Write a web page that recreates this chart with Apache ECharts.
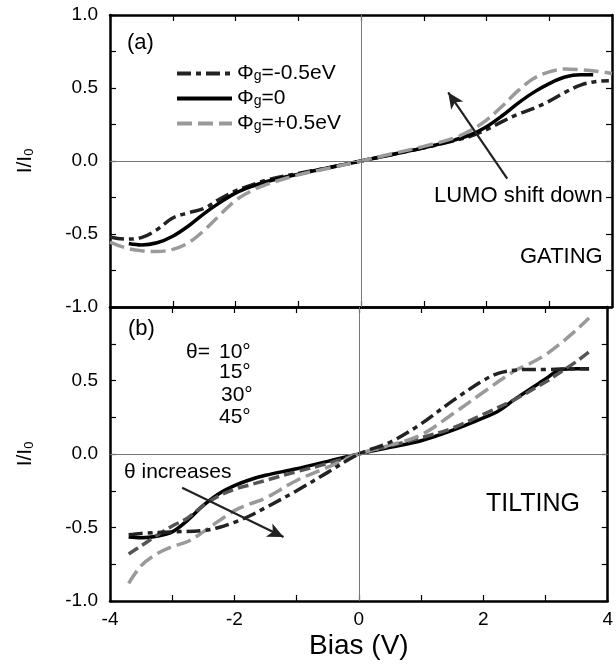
<!DOCTYPE html>
<html>
<head>
<meta charset="utf-8">
<script src="https://cdn.jsdelivr.net/npm/echarts@6/dist/echarts.min.js"></script>
<style>
  html, body { margin: 0; padding: 0; background: #fff; }
  #chart { width: 616px; height: 664px; }
</style>
</head>
<body>
<div id="chart"></div>
<script>
// (a) gating: bias (V) and normalised current I/I0
const gateNames = ["Φg=-0.5eV", "Φg=0", "Φg=+0.5eV"];
const gateBiasNeg = [-4.0, -3.75, -3.5, -3.25, -3.0, -2.75, -2.5, -2.25, -2.0, -1.75, -1.5, -1.0, -0.5, 0, 0.5, 1.0, 1.5, 1.75, 2.0, 2.25, 2.5, 2.75, 3.0, 3.25, 3.5, 3.75, 3.95];
const gateCurNeg = [-0.52, -0.535, -0.525, -0.47, -0.39, -0.355, -0.325, -0.26, -0.205, -0.165, -0.13, -0.085, -0.045, 0, 0.045, 0.09, 0.14, 0.17, 0.215, 0.27, 0.32, 0.36, 0.41, 0.47, 0.52, 0.545, 0.55];
const gateBiasZero = [-3.7, -3.5, -3.25, -3.0, -2.75, -2.5, -2.25, -2.0, -1.75, -1.5, -1.0, -0.5, 0, 0.5, 1.0, 1.5, 1.75, 2.0, 2.25, 2.5, 2.75, 3.0, 3.25, 3.5, 3.7];
const gateCurZero = [-0.565, -0.575, -0.56, -0.515, -0.445, -0.36, -0.285, -0.22, -0.175, -0.14, -0.09, -0.045, 0, 0.045, 0.09, 0.145, 0.18, 0.235, 0.31, 0.395, 0.47, 0.53, 0.575, 0.59, 0.59];
const gateBiasPos = [-4.0, -3.75, -3.5, -3.25, -3.0, -2.75, -2.5, -2.25, -2.0, -1.75, -1.5, -1.0, -0.5, 0, 0.5, 1.0, 1.5, 1.75, 2.0, 2.25, 2.5, 2.75, 3.0, 3.25, 3.5, 3.75, 4.0];
const gateCurPos = [-0.555, -0.595, -0.615, -0.62, -0.605, -0.56, -0.475, -0.37, -0.27, -0.205, -0.16, -0.095, -0.048, 0, 0.05, 0.1, 0.16, 0.21, 0.28, 0.375, 0.48, 0.565, 0.61, 0.63, 0.625, 0.615, 0.60];

// (b) tilting
const tiltNames = ["θ=10°", "θ=15°", "θ=30°", "θ=45°"];
const tiltBias10 = [-3.7, -3.5, -3.25, -3.0, -2.75, -2.5, -2.25, -2.0, -1.75, -1.5, -1.0, -0.5, 0, 0.5, 1.0, 1.5, 2.0, 2.25, 2.5, 2.75, 3.0, 3.25, 3.5, 3.7];
const tiltCur10 = [-0.565, -0.57, -0.56, -0.53, -0.45, -0.35, -0.27, -0.215, -0.175, -0.145, -0.1, -0.05, 0, 0.045, 0.09, 0.16, 0.245, 0.295, 0.37, 0.44, 0.51, 0.575, 0.58, 0.58];
const tiltBias15 = [-3.7, -3.5, -3.25, -3.0, -2.75, -2.5, -2.25, -2.0, -1.75, -1.5, -1.0, -0.5, 0, 0.5, 1.0, 1.5, 2.0, 2.5, 3.0, 3.25, 3.5, 3.7];
const tiltCur15 = [-0.68, -0.625, -0.555, -0.49, -0.435, -0.35, -0.285, -0.24, -0.21, -0.18, -0.12, -0.065, 0, 0.055, 0.11, 0.175, 0.27, 0.37, 0.49, 0.56, 0.63, 0.695];
const tiltBias30 = [-3.7, -3.5, -3.25, -3.0, -2.75, -2.5, -2.25, -2.0, -1.75, -1.5, -1.0, -0.5, 0, 0.5, 1.0, 1.5, 2.0, 2.5, 2.75, 3.0, 3.25, 3.5, 3.7];
const tiltCur30 = [-0.88, -0.76, -0.68, -0.63, -0.595, -0.53, -0.455, -0.385, -0.34, -0.3, -0.18, -0.09, 0, 0.06, 0.13, 0.27, 0.42, 0.565, 0.615, 0.675, 0.755, 0.845, 0.925];
const tiltBias45 = [-3.7, -3.5, -3.0, -2.5, -2.25, -2.0, -1.75, -1.5, -1.0, -0.5, 0, 0.5, 1.0, 1.5, 2.0, 2.25, 2.5, 2.75, 3.0, 3.5, 3.7];
const tiltCur45 = [-0.55, -0.54, -0.53, -0.52, -0.5, -0.465, -0.42, -0.365, -0.25, -0.125, 0, 0.08, 0.205, 0.36, 0.5, 0.55, 0.57, 0.575, 0.575, 0.58, 0.58];

// annotation arrows, [bias, I/I0] tail -> head
const lumoArrow = [[2.33, -0.12], [1.39, 0.47]];
const thetaArrow = [[-2.84, -0.23], [-1.21, -0.565]];

const FONT = "Liberation Sans, Arial, sans-serif";
const zip = (xs, ys) => xs.map((x, i) => [x, ys[i]]);

const dashDot = [14, 5, 5, 5];
const longDash = [15, 6];
const shortDash = [11, 5];

function xAxes(gridIndex, showLabels) {
  const base = {
    type: "value", gridIndex, min: -4, max: 4, interval: 2,
    axisLine: { onZero: false, lineStyle: { color: "#000", width: 2.5 } },
    axisTick: { inside: true, length: 6, lineStyle: { color: "#000", width: 1.2 } },
    minorTick: { show: true, splitNumber: 2, length: 6, lineStyle: { color: "#000", width: 1.2 } },
    splitLine: { show: false }
  };
  return [
    {
      ...base, position: "bottom",
      axisLabel: { show: showLabels, fontFamily: FONT, fontSize: 19, color: "#000", margin: 9 },
      name: showLabels ? "Bias (V)" : "", nameLocation: "middle", nameGap: 31,
      nameTextStyle: { fontFamily: FONT, fontSize: 28, color: "#000" }
    },
    { ...base, position: "top", axisLabel: { show: false } }
  ];
}

function yAxes(gridIndex, showMax) {
  const base = {
    type: "value", gridIndex, min: -1, max: 1, interval: 0.5,
    axisLine: { onZero: false, lineStyle: { color: "#000", width: 2.5 } },
    axisTick: { inside: true, length: 6, lineStyle: { color: "#000", width: 1.2 } },
    minorTick: { show: true, splitNumber: 2, length: 6, lineStyle: { color: "#000", width: 1.2 } },
    splitLine: { show: false }
  };
  return [
    {
      ...base, position: "left",
      axisLabel: {
        fontFamily: FONT, fontSize: 19, color: "#000", margin: 12, showMaxLabel: showMax,
        formatter: (v) => v.toFixed(1)
      },
      name: "{i|I/I}{s|0}", nameLocation: "middle", nameRotate: 90, nameGap: 74,
      nameTextStyle: {
        rich: {
          i: { fontFamily: FONT, fontSize: 21, color: "#000", lineHeight: 22 },
          s: { fontFamily: FONT, fontSize: 13, color: "#000", lineHeight: 8, verticalAlign: "bottom" }
        }
      }
    },
    { ...base, position: "right", axisLabel: { show: false } }
  ];
}

function curve(name, xs, ys, panel, color, dash) {
  return {
    name, type: "line", data: zip(xs, ys),
    xAxisIndex: panel * 2, yAxisIndex: panel * 2,
    smooth: 0.35, symbol: "none", silent: true,
    itemStyle: { color },
    lineStyle: { color, width: 3.5, type: dash, cap: "butt" }
  };
}

function guides(arrow) {
  return {
    silent: true, symbol: "none", animation: false,
    label: { show: false },
    lineStyle: { color: "#777", width: 1, type: "solid" },
    data: [
      { xAxis: 0 },
      { yAxis: 0 },
      [
        { coord: arrow[0], symbol: "none", lineStyle: { color: "#222", width: 2.2, type: "solid" } },
        { coord: arrow[1], symbol: "arrow", symbolSize: [11, 16] }
      ]
    ]
  };
}

const series = [
  curve(gateNames[0], gateBiasNeg, gateCurNeg, 0, "#222", dashDot),
  curve(gateNames[1], gateBiasZero, gateCurZero, 0, "#000", "solid"),
  curve(gateNames[2], gateBiasPos, gateCurPos, 0, "#9a9a9a", longDash),
  curve(tiltNames[0], tiltBias10, tiltCur10, 1, "#000", "solid"),
  curve(tiltNames[1], tiltBias15, tiltCur15, 1, "#555", shortDash),
  curve(tiltNames[2], tiltBias30, tiltCur30, 1, "#9a9a9a", longDash),
  curve(tiltNames[3], tiltBias45, tiltCur45, 1, "#222", dashDot)
];
series[0].markLine = guides(lumoArrow);
series[3].markLine = guides(thetaArrow);

const txt = (left, top, text, size) => ({
  type: "text", left, top, silent: true,
  style: { text, fontFamily: FONT, fontSize: size, fill: "#000" }
});

const chart = echarts.init(document.getElementById("chart"), null, { renderer: "canvas" });
chart.setOption({
  animation: false,
  backgroundColor: "#fff",
  grid: [
    { left: 110, top: 15, width: 502, height: 292 },
    { left: 110, top: 307, width: 502, height: 294 }
  ],
  xAxis: [...xAxes(0, false), ...xAxes(1, true)],
  yAxis: [...yAxes(0, true), ...yAxes(1, false)],
  legend: {
    data: gateNames,
    orient: "vertical", left: 170, top: 58,
    itemWidth: 55, itemHeight: 14, itemGap: 4,
    selectedMode: false,
    itemStyle: { opacity: 0 },
    lineStyle: { width: 4 },
    formatter: (name) => "{t|Φ}{s|g}{t|" + name.slice(2) + "}",
    textStyle: {
      rich: {
        t: { fontFamily: FONT, fontSize: 21, color: "#000", lineHeight: 20 },
        s: { fontFamily: FONT, fontSize: 14, color: "#000", lineHeight: 6, verticalAlign: "bottom" }
      }
    }
  },
  graphic: [
    txt(127, 32, "(a)", 22),
    txt(128, 318, "(b)", 22),
    txt(434, 185, "LUMO shift down", 22),
    txt(520, 246, "GATING", 22),
    txt(486, 492, "TILTING", 25),
    txt(186, 342, "θ=", 21),
    txt(219, 342, "10°", 21),
    txt(219, 362, "15°", 21),
    txt(221, 385, "30°", 21),
    txt(219, 407, "45°", 21),
    txt(124, 462, "θ increases", 21)
  ],
  series
});
</script>
</body>
</html>
